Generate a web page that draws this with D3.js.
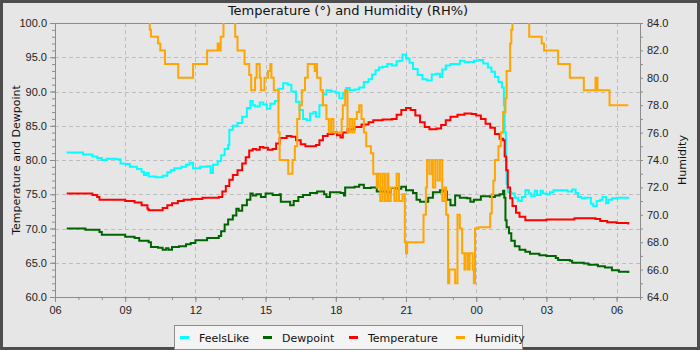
<!DOCTYPE html>
<html>
<head>
    <title>Temperature and Humidity</title>
    <script src="https://d3js.org/d3.v7.min.js"></script>
    <style>
        body { margin: 0; background: #e6e6e6; }
        svg { display: block; font-family: 'DejaVu Sans', sans-serif; }
        .axis text { font-size: 11px; fill: #222; }
        .axis path, .axis line { stroke: #8c8c8c; }
        .grid line { stroke: #bdbdbd; stroke-dasharray: 4,3; }
    </style>
</head>
<body>
<svg width="700" height="350"></svg>
<script>
    // x range of the chart, as clock times (rolls over midnight)
    const xStart = "06:00", xEnd = "07:00";
    const xTickHours = [6, 9, 12, 15, 18, 21, 0, 3, 6];
    const leftTicks = [60, 65, 70, 75, 80, 85, 90, 95, 100];
    const rightTicks = [64, 66, 68, 70, 72, 74, 76, 78, 80, 82, 84];

    const seriesNames = ["FeelsLike", "Dewpoint", "Temperature", "Humidity"];
    const seriesColors = ["#00ffff", "#006400", "#ff0000", "#ffa500"];

    const feelsLike = [
        ["06:30",81.1],["06:54",81.1],["07:12",80.8],["07:30",80.8],["07:36",80.5],["07:48",80.3],["08:00",80.0],["08:12",80.2],
        ["08:36",80.1],["08:48",79.5],["09:00",79.4],["09:12",79.0],["09:30",78.7],["09:42",78.3],["09:48",77.8],["09:54",78.1],
        ["10:00",77.6],["10:18",77.5],["10:36",77.7],["10:48",78.2],["10:57",78.5],["11:06",78.8],["11:24",79.0],["11:36",79.3],
        ["11:45",79.6],["11:54",78.8],["12:12",79.0],["12:30",79.1],["12:39",78.1],["12:45",79.3],["12:57",79.8],["13:06",80.7],
        ["13:15",81.6],["13:24",82.2],["13:27",84.4],["13:36",85.0],["13:48",85.4],["14:00",86.3],["14:12",87.6],["14:21",88.6],
        ["14:27",88.0],["14:33",87.8],["14:45",88.4],["14:54",88.1],["15:03",87.5],["15:12",88.2],["15:24",88.6],["15:33",90.4],
        ["15:45",91.2],["15:57",91.0],["16:06",90.0],["16:18",88.5],["16:27",87.3],["16:36",86.0],["16:45",85.8],["16:54",86.8],
        ["17:03",87.0],["17:09",86.3],["17:18",88.0],["17:27",89.6],["17:36",90.2],["17:48",90.0],["18:00",89.8],["18:09",89.0],
        ["18:18",89.8],["18:27",90.5],["18:36",90.2],["18:48",90.3],["19:00",90.6],["19:12",91.4],["19:24",91.8],["19:33",92.5],
        ["19:42",93.1],["19:51",93.5],["20:00",93.6],["20:12",94.0],["20:24",93.8],["20:36",94.4],["20:45",94.5],["20:51",95.4],
        ["21:00",94.8],["21:09",94.2],["21:18",93.3],["21:30",92.4],["21:42",91.8],["21:54",91.6],["22:06",92.5],["22:18",92.6],
        ["22:27",92.1],["22:33",93.2],["22:42",93.8],["22:54",94.0],["23:06",94.0],["23:18",94.5],["23:30",94.3],["23:42",94.3],
        ["23:54",94.5],["00:06",94.6],["00:18",94.1],["00:30",93.5],["00:39",92.9],["00:48",92.1],["00:57",91.4],["01:06",90.6],
        ["01:11",88.0],["01:13",84.0],["01:16",80.0],["01:18",76.5],["01:21",75.3],["01:30",75.1],["01:39",74.5],["01:48",74.0],
        ["01:57",74.6],["02:06",75.6],["02:15",75.1],["02:21",74.7],["02:30",75.5],["02:36",74.9],["02:45",75.5],["02:51",75.1],
        ["03:00",75.0],["03:09",75.3],["03:18",75.6],["03:36",75.6],["03:54",75.4],["04:06",75.7],["04:15",75.2],["04:21",74.6],
        ["04:30",74.4],["04:39",74.5],["04:48",74.5],["04:54",73.6],["05:00",73.3],["05:09",74.0],["05:18",74.2],["05:24",74.6],
        ["05:33",73.7],["05:39",74.2],["05:48",74.4],["06:00",74.5],["06:30",74.6]
    ];

    const temperature = [
        ["06:30",75.1],["07:24",75.1],["07:36",74.9],["07:48",74.6],["07:54",74.2],["08:48",74.2],["09:00",74.0],["09:24",73.8],
        ["09:42",73.4],["09:57",72.9],["10:00",72.65],["10:24",72.65],["10:36",73.0],["10:48",73.4],["11:00",73.7],["11:15",74.0],
        ["11:30",74.2],["11:51",74.3],["12:18",74.5],["13:00",74.6],["13:09",75.4],["13:18",76.2],["13:27",77.1],["13:36",77.8],
        ["13:48",78.5],["14:00",79.5],["14:09",80.4],["14:18",81.4],["14:27",81.6],["14:36",81.5],["14:45",81.9],["14:54",81.8],
        ["15:06",81.5],["15:18",81.6],["15:27",82.4],["15:36",83.2],["15:54",83.5],["16:06",83.4],["16:18",82.9],["16:30",82.3],
        ["16:42",82.0],["17:00",82.0],["17:09",82.2],["17:18",82.9],["17:27",83.5],["17:39",83.8],["17:54",84.0],["18:03",83.6],
        ["18:12",83.3],["18:18",84.0],["18:30",84.5],["18:48",84.8],["19:06",85.2],["19:24",85.5],["19:36",85.8],["20:00",85.9],
        ["20:24",86.0],["20:36",86.6],["20:48",87.3],["21:00",87.6],["21:12",87.3],["21:24",86.5],["21:36",85.5],["21:48",84.8],
        ["22:00",84.5],["22:18",84.6],["22:30",85.1],["22:42",85.8],["22:54",86.3],["23:12",86.6],["23:30",86.8],["23:48",86.7],
        ["00:00",86.5],["00:12",86.0],["00:24",85.3],["00:36",84.7],["00:48",83.8],["01:00",83.1],["01:09",82.9],["01:13",80.5],
        ["01:17",78.5],["01:21",76.0],["01:27",74.4],["01:33",73.3],["01:42",72.3],["01:51",71.7],["02:06",71.2],["03:00",71.3],
        ["04:06",71.3],["04:12",71.5],["05:06",71.4],["05:18",71.1],["05:36",70.9],["06:00",70.8],["06:30",70.6]
    ];

    const dewpoint = [
        ["06:30",70.0],["07:06",70.0],["07:18",69.8],["07:54",69.5],["08:00",69.1],["08:42",69.1],["09:00",68.8],["09:24",68.6],
        ["09:36",68.2],["10:00",68.0],["10:06",67.3],["10:24",67.2],["10:36",66.9],["10:45",67.1],["10:51",66.9],["11:00",67.3],
        ["11:18",67.4],["11:36",67.7],["11:48",67.9],["12:00",68.3],["12:30",68.6],["12:54",68.6],["13:00",68.9],["13:06",69.6],
        ["13:15",70.6],["13:24",71.3],["13:36",71.9],["13:45",72.9],["13:51",72.6],["14:00",73.4],["14:12",74.2],["14:21",75.1],
        ["14:27",74.8],["14:36",75.0],["14:48",74.6],["15:00",75.1],["15:18",74.9],["15:36",75.0],["15:39",73.9],["15:54",73.9],
        ["16:03",73.4],["16:12",74.0],["16:24",74.6],["16:36",74.9],["16:54",75.2],["17:12",75.4],["17:30",75.0],["17:36",74.6],
        ["17:45",75.3],["18:12",75.2],["18:21",74.8],["18:24",76.0],["18:48",76.1],["19:00",76.4],["19:12",75.9],["19:30",76.0],
        ["19:45",75.4],["20:12",75.3],["20:21",75.9],["20:36",75.8],["20:48",76.1],["21:00",75.6],["21:18",75.2],["21:27",74.2],
        ["21:36",73.9],["21:48",73.9],["21:57",74.5],["22:09",75.3],["22:27",75.6],["22:36",75.4],["22:45",74.2],["22:54",73.4],
        ["23:06",74.8],["23:18",74.5],["23:36",74.4],["23:45",73.9],["23:54",74.2],["00:12",74.7],["00:36",74.6],["00:48",74.8],
        ["01:00",75.0],["01:09",75.5],["01:12",74.5],["01:15",71.2],["01:18",70.2],["01:24",69.3],["01:30",68.2],["01:39",67.4],
        ["01:51",66.9],["02:06",66.6],["02:18",66.3],["02:42",66.1],["03:00",66.0],["03:24",65.7],["03:30",65.4],["04:00",65.3],
        ["04:06",65.0],["04:36",64.9],["04:48",64.7],["05:12",64.5],["05:30",64.3],["05:48",63.9],["06:06",63.7],["06:30",63.5]
    ];

    const humidity = [
        ["06:30",86.0],["10:00",85.0],["10:03",83.5],["10:06",83.0],["10:24",82.5],["10:30",82.0],["10:42",81.0],["11:16",80.0],
        ["11:54",81.0],["12:30",82.0],["12:57",82.5],["13:00",82.0],["13:05",83.0],["13:12",84.5],["13:42",83.0],["13:48",82.0],
        ["14:06",81.0],["14:18",80.2],["14:23",79.1],["14:33",80.0],["14:37",81.0],["14:45",80.0],["14:48",79.1],["14:57",80.0],
        ["15:06",80.5],["15:12",81.0],["15:15",80.0],["15:21",79.1],["15:33",76.0],["15:36",74.0],["15:58",73.0],["16:09",74.0],
        ["16:15",75.0],["16:21",77.0],["16:27",78.0],["16:33",79.1],["16:41",80.0],["16:48",81.0],["17:06",80.5],["17:09",81.0],
        ["17:12",80.0],["17:21",79.1],["17:27",78.0],["17:36",77.0],["17:42",76.0],["17:48",77.0],["17:54",76.0],["18:15",77.0],
        ["18:18",78.0],["18:24",79.1],["18:30",76.0],["18:36",77.0],["18:42",76.0],["18:48",77.0],["18:54",77.5],["19:00",78.0],
        ["19:06",77.0],["19:12",76.0],["19:18",75.0],["19:30",74.5],["19:36",73.0],["19:45",72.0],["19:48",73.0],["19:54",71.0],
        ["20:00",73.0],["20:06",71.0],["20:12",73.0],["20:15",71.0],["20:21",72.0],["20:30",71.0],["20:36",73.0],["20:42",71.0],
        ["20:51",71.5],["20:57",68.0],["21:00",67.2],["21:03",68.0],["21:45",70.0],["21:51",72.0],["21:54",74.0],["22:00",73.0],
        ["22:06",74.0],["22:09",72.0],["22:15",74.0],["22:21",72.5],["22:27",74.0],["22:33",71.0],["22:39",72.0],["22:43",70.0],
        ["22:48",65.0],["22:51",66.0],["22:57",66.0],["23:06",65.0],["23:12",70.0],["23:18",69.0],["23:24",67.2],["23:30",66.0],
        ["23:33",67.2],["23:39",66.0],["23:43",67.2],["23:51",66.0],["23:54",65.0],["23:57",69.0],["00:06",69.1],["00:36",70.1],
        ["00:40",71.5],["00:44",72.5],["00:48",74.0],["00:57",75.0],["01:03",76.0],["01:09",77.5],["01:15",78.5],["01:18",80.5],
        ["01:27",82.5],["01:30",83.5],["01:33",85.0],["02:16",83.0],["02:48",82.5],["02:54",82.0],["03:30",81.0],["04:00",80.0],
        ["04:36",79.1],["05:06",80.0],["05:11",79.1],["05:42",78.0],["06:30",78.0]
    ];

    const W = 700, H = 350;
    const margin = {top: 23, right: 60, bottom: 53, left: 55};
    const width = W - margin.left - margin.right,
          height = H - margin.top - margin.bottom;

    const parseClock = d3.timeParse("%Y-%m-%d %H:%M");
    // turn a list of clock strings into dates, adding a day when the clock wraps
    function toDates(list) {
        let day = 1, prev = null;
        return list.map(t => {
            let d = parseClock("2024-01-0" + day + " " + t);
            if (prev && d < prev) { day++; d = parseClock("2024-01-0" + day + " " + t); }
            prev = d;
            return d;
        });
    }
    function toPoints(series) {
        const dates = toDates(series.map(d => d[0]));
        return series.map((d, i) => ({date: dates[i], value: d[1]}));
    }

    const xDomain = toDates([xStart, "12:00", "00:00", xEnd]);
    const x = d3.scaleTime().domain([xDomain[0], xDomain[3]]).range([0, width]);
    const yLeft = d3.scaleLinear().domain([leftTicks[0], leftTicks[leftTicks.length - 1]]).range([height, 0]);
    const yRight = d3.scaleLinear().domain([rightTicks[0], rightTicks[rightTicks.length - 1]]).range([height, 0]);

    const svg = d3.select("svg");

    // frame
    svg.append("rect").attr("x", 1.5).attr("y", 1.5).attr("width", W - 3).attr("height", H - 3)
        .attr("fill", "#e6e6e6").attr("stroke", "#4d4d4d").attr("stroke-width", 3);

    const g = svg.append("g").attr("transform", `translate(${margin.left},${margin.top})`);

    g.append("defs").append("clipPath").attr("id", "plotclip")
        .append("rect").attr("width", width).attr("height", height);

    // hour ticks from the labels, majors every 3 hours
    const hourTicks = x.ticks(d3.timeHour.every(1));
    const majorTicks = toDates(xTickHours.map(h => d3.format("02")(h) + ":00"));

    // grid
    const grid = g.append("g").attr("class", "grid");
    grid.selectAll(".hg").data(leftTicks.slice(1, -1)).enter().append("line")
        .attr("x1", 0).attr("x2", width)
        .attr("y1", d => Math.round(yLeft(d)) + 0.5).attr("y2", d => Math.round(yLeft(d)) + 0.5);
    grid.selectAll(".vg").data(majorTicks.slice(1)).enter().append("line")
        .attr("y1", 0).attr("y2", height)
        .attr("x1", d => Math.round(x(d)) + 0.5).attr("x2", d => Math.round(x(d)) + 0.5);

    // plot border
    g.append("rect").attr("x", 0.5).attr("y", 0.5).attr("width", width).attr("height", height)
        .attr("fill", "none").attr("stroke", "#8c8c8c");

    // series
    const lines = g.append("g").attr("clip-path", "url(#plotclip)");
    const allSeries = [feelsLike, dewpoint, temperature, humidity];
    allSeries.forEach((s, i) => {
        const yScale = i === 3 ? yRight : yLeft;
        const line = d3.line()
            .x(d => x(d.date))
            .y(d => yScale(d.value))
            .curve(d3.curveStepAfter);
        lines.append("path")
            .datum(toPoints(s))
            .attr("fill", "none")
            .attr("stroke", seriesColors[i])
            .attr("stroke-width", 2)
            .attr("d", line);
    });

    // x axis: minor ticks each hour, labels every 3 hours
    g.append("g").attr("class", "axis")
        .attr("transform", `translate(0,${height})`)
        .call(d3.axisBottom(x).tickValues(hourTicks).tickSize(3).tickFormat(""))
        .call(a => a.select(".domain").remove());
    g.append("g").attr("class", "axis")
        .attr("transform", `translate(0,${height})`)
        .call(d3.axisBottom(x).tickValues(majorTicks).tickSize(5).tickPadding(4)
            .tickFormat(d3.timeFormat("%H")))
        .call(a => a.select(".domain").remove());

    // left axis
    g.append("g").attr("class", "axis")
        .call(d3.axisLeft(yLeft).ticks(40).tickSize(3).tickFormat(""))
        .call(a => a.select(".domain").remove());
    g.append("g").attr("class", "axis")
        .call(d3.axisLeft(yLeft).tickValues(leftTicks).tickSize(5).tickPadding(3)
            .tickFormat(d3.format(".1f")))
        .call(a => a.select(".domain").remove());

    // right axis
    g.append("g").attr("class", "axis")
        .attr("transform", `translate(${width},0)`)
        .call(d3.axisRight(yRight).ticks(20).tickSize(3).tickFormat(""))
        .call(a => a.select(".domain").remove());
    g.append("g").attr("class", "axis")
        .attr("transform", `translate(${width},0)`)
        .call(d3.axisRight(yRight).tickValues(rightTicks).tickSize(0).tickPadding(7)
            .tickFormat(d3.format(".1f")))
        .call(a => a.select(".domain").remove());

    // titles
    svg.append("text")
        .attr("x", 348).attr("y", 15)
        .attr("text-anchor", "middle")
        .style("font-size", "13px").style("fill", "#111")
        .text("Temperature (°) and Humidity (RH%)");
    svg.append("text")
        .attr("transform", `translate(20,${margin.top + height / 2}) rotate(-90)`)
        .attr("text-anchor", "middle")
        .style("font-size", "11px").style("fill", "#111")
        .text("Temperature and Dewpoint");
    svg.append("text")
        .attr("transform", `translate(686,${margin.top + height / 2}) rotate(-90)`)
        .attr("text-anchor", "middle")
        .style("font-size", "11px").style("fill", "#111")
        .text("Humidity");

    // legend
    const legend = svg.append("g");
    legend.append("rect").attr("x", 174.5).attr("y", 325.5).attr("width", 348).attr("height", 24)
        .attr("fill", "#f4f4f4").attr("stroke", "#8c8c8c");
    const legendX = [180, 263, 349, 456];
    seriesNames.forEach((name, i) => {
        legend.append("line")
            .attr("x1", legendX[i]).attr("x2", legendX[i] + 9)
            .attr("y1", 337.5).attr("y2", 337.5)
            .attr("stroke", seriesColors[i]).attr("stroke-width", 3);
        legend.append("text")
            .attr("x", legendX[i] + 19).attr("y", 341.5)
            .style("font-size", "11px").style("fill", "#111")
            .text(name);
    });
</script>
</body>
</html>
